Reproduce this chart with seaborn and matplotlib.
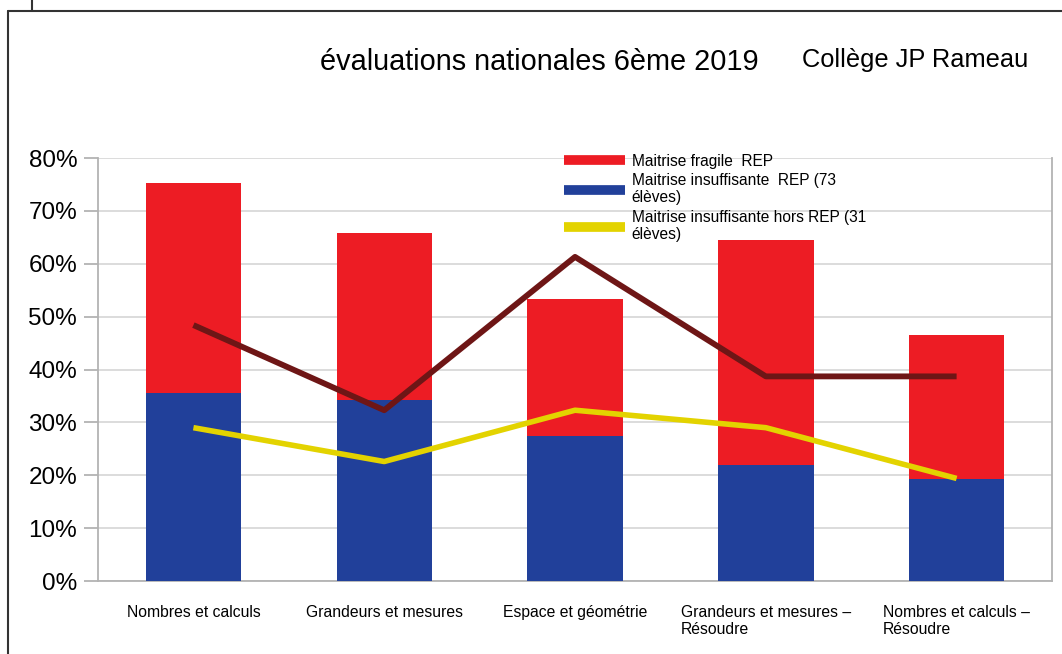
import matplotlib
matplotlib.use("Agg")
import matplotlib.pyplot as plt
from matplotlib.lines import Line2D
from matplotlib.ticker import FixedLocator, FuncFormatter
import numpy as np
import pandas as pd
import seaborn as sns

categories = [
    "Nombres et calculs",
    "Grandeurs et mesures",
    "Espace et géométrie",
    "Grandeurs et mesures –\nRésoudre",
    "Nombres et calculs –\nRésoudre",
]
# percentages of pupils
insuffisante_rep = [35.6, 34.2, 27.4, 21.9, 19.2]
fragile_rep = [39.7, 31.6, 26.0, 42.5, 27.4]
insuffisante_hors_rep = [29.0, 22.6, 32.3, 29.0, 19.4]
fragile_hors_rep = [48.4, 32.3, 61.3, 38.7, 38.7]

legend_labels = [
    "Maitrise fragile  REP",
    "Maitrise insuffisante  REP (73\nélèves)",
    "Maitrise insuffisante hors REP (31\nélèves)",
]

RED = "#ed1c24"
BLUE = "#21409a"
YELLOW = "#e3d300"
DARK_RED = "#6e1616"
GRID = "#d9d9d9"
SPINE = "#b3b3b3"


def main() -> None:
    sns.set_style("white")
    plt.rcParams["font.family"] = ["Liberation Sans", "DejaVu Sans"]
    plt.rcParams["text.color"] = "black"
    plt.rcParams["xtick.color"] = "black"
    plt.rcParams["ytick.color"] = "black"

    frame = pd.DataFrame({
        "categorie": categories,
        "insuffisante": insuffisante_rep,
        "total": np.array(insuffisante_rep) + np.array(fragile_rep),
    })
    positions = np.arange(len(categories))

    fig = plt.figure(figsize=(10.62, 6.54), dpi=100)
    ax = fig.add_axes([0.0923, 0.1116, 0.8983, 0.6468])

    sns.barplot(data=frame, x="categorie", y="total", color=RED, width=0.5,
                saturation=1, linewidth=0, ax=ax, zorder=2)
    sns.barplot(data=frame, x="categorie", y="insuffisante", color=BLUE, width=0.5,
                saturation=1, linewidth=0, ax=ax, zorder=3)
    sns.lineplot(x=positions, y=fragile_hors_rep, color=DARK_RED, lw=4.2, ax=ax,
                 zorder=4, solid_capstyle="butt")
    sns.lineplot(x=positions, y=insuffisante_hors_rep, color=YELLOW, lw=4.0, ax=ax,
                 zorder=4, solid_capstyle="butt")

    ax.set_xlim(-0.5, len(categories) - 0.5)
    ax.set_ylim(0, 80)
    ax.set_yticks(np.arange(0, 81, 10))
    ax.yaxis.set_major_formatter(FuncFormatter(lambda v, _: f"{v:.0f}%"))
    ax.yaxis.grid(True, color=GRID, lw=1.3, zorder=0)
    ax.set_axisbelow(True)
    ax.set_xlabel("")
    ax.set_ylabel("")

    ax.xaxis.set_minor_locator(FixedLocator(np.arange(-0.5, len(categories), 1.0)))
    ax.tick_params(axis="x", which="major", length=0, pad=17, labelsize=11.3,
                   labelcolor="black")
    ax.tick_params(axis="x", which="minor", length=10, width=1.3, color=SPINE,
                   direction="out")
    ax.tick_params(axis="y", length=10, width=1.3, color=SPINE, direction="out",
                   labelsize=17.5, pad=5, labelcolor="black")
    ax.tick_params(axis="both", left=True, bottom=True)
    for label in ax.get_xticklabels():
        label.set_multialignment("left")

    for side in ["left", "right", "bottom"]:
        ax.spines[side].set_visible(True)
        ax.spines[side].set_color(SPINE)
        ax.spines[side].set_linewidth(1.3)
    ax.spines["top"].set_visible(False)

    handles = [Line2D([], [], color=c, lw=7, solid_capstyle="butt")
               for c in (RED, BLUE, YELLOW)]
    fig.legend(handles, legend_labels, loc="upper left",
               bbox_to_anchor=(0.531, 0.765), frameon=False, fontsize=11.2,
               handlelength=3.9, handletextpad=0.45, labelspacing=0.28,
               borderpad=0, borderaxespad=0, labelcolor="black")

    fig.text(0.508, 0.905, "évaluations nationales 6ème 2019", fontsize=20.8,
             ha="center", va="center", color="black")
    fig.text(0.862, 0.908, "Collège JP Rameau", fontsize=18.3, ha="center",
             va="center", color="black")

    # page frame around the chart
    w, h = 1062, 654
    for xs, ys in (([8, 8], [11, h]), ([8, w], [11, 11]), ([32, 32], [0, 11])):
        fig.add_artist(Line2D([x / w for x in xs], [1 - y / h for y in ys],
                              color="#333333", lw=1.5))

    fig.savefig("out.png", dpi=100)
    plt.close(fig)


if __name__ == "__main__":
    main()
